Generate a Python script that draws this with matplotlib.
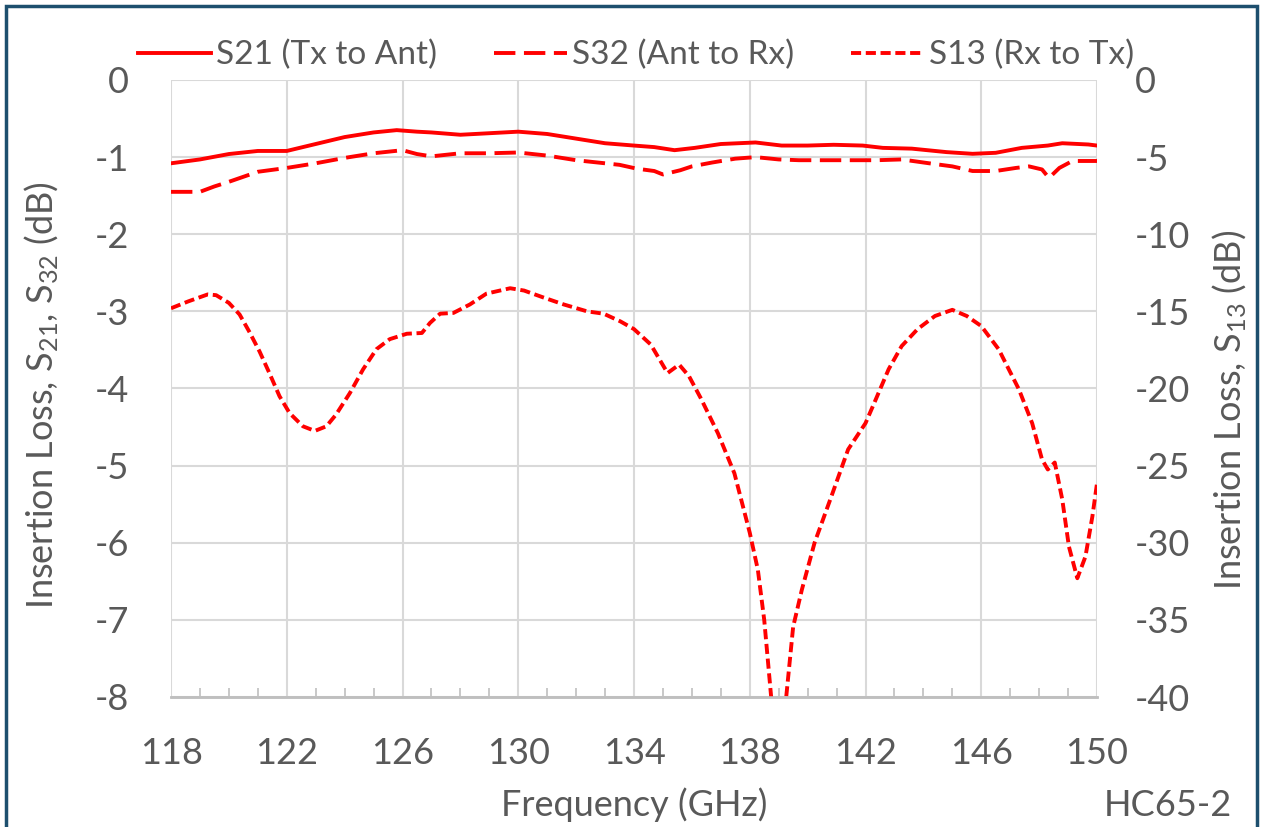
import matplotlib
matplotlib.use("Agg")
from matplotlib import pyplot as plt
from matplotlib.patches import Rectangle
from matplotlib.ticker import MultipleLocator

plt.rc("font", family = ["Lato", "DejaVu Sans"], size = 26)
plt.rc("mathtext", default = "regular")
plt.rc("axes", unicode_minus = False)

GRAY = "#595959"

# S21 (Tx to Ant), left axis, dB
s21_freq = [118, 119, 120, 121, 122, 123, 124, 125, 125.8, 126.5, 127, 128, 129, 130,
            131, 132, 133, 134, 134.7, 135.4, 136.1, 137, 138.2, 139.1, 140, 140.9,
            141.9, 142.6, 143.6, 144.8, 145.7, 146.5, 147.4, 148.3, 148.8, 149.7, 150]
s21_db = [-1.08, -1.03, -0.96, -0.92, -0.92, -0.83, -0.74, -0.68, -0.65, -0.67, -0.68,
          -0.71, -0.69, -0.67, -0.70, -0.76, -0.82, -0.85, -0.87, -0.91, -0.88, -0.83,
          -0.81, -0.85, -0.85, -0.84, -0.85, -0.88, -0.89, -0.935, -0.957, -0.944,
          -0.88, -0.85, -0.82, -0.836, -0.85]

# S32 (Ant to Rx), left axis, dB
s32_freq = [118, 119, 119.5, 120, 121, 122, 123, 124, 125, 126, 126.5, 127, 128, 129,
            130, 131, 132, 133, 133.5, 134.1, 134.7, 135, 135.6, 136, 136.7, 137.5,
            138.2, 139, 139.7, 140.6, 141.4, 142.4, 143.25, 144.2, 145, 145.7, 146.5,
            147.2, 147.65, 148.1, 148.34, 148.7, 149.15, 150]
s32_db = [-1.45, -1.45, -1.38, -1.32, -1.19, -1.14, -1.08, -1.01, -0.95, -0.91, -0.96,
          -0.99, -0.95, -0.95, -0.94, -0.98, -1.04, -1.08, -1.10, -1.15, -1.18, -1.225,
          -1.17, -1.12, -1.07, -1.02, -1.00, -1.03, -1.04, -1.04, -1.04, -1.04, -1.03,
          -1.08, -1.12, -1.18, -1.18, -1.14, -1.12, -1.16, -1.27, -1.14, -1.05, -1.05]

# S13 (Rx to Tx), right axis, dB
s13_freq = [118, 118.6, 119.27, 119.56, 120, 120.37, 120.7, 121.06, 121.4, 121.75, 122.1,
            122.56, 122.97, 123.37, 123.7, 124.18, 124.64, 125.1, 125.56, 126.15, 126.67,
            126.95, 127.3, 127.76, 128.33, 128.9, 129.72, 130.2, 130.87, 131.57, 132.38,
            132.95, 133.53, 134.0, 134.58, 135.16, 135.56, 135.9, 136.3, 136.9, 137.47,
            138.0, 138.28, 138.5, 138.74, 139.0, 139.26, 139.5, 139.8, 140.24, 140.82,
            141.4, 142.0, 142.3, 142.8, 143.25, 143.8, 144.4, 145.0, 145.5, 146.0, 146.6,
            147.3, 147.76, 148.1, 148.3, 148.54, 148.8, 149.03, 149.32, 149.6, 149.84, 150]
s13_db = [-14.8, -14.35, -13.9, -13.95, -14.45, -15.2, -16.3, -17.6, -19.0, -20.5, -21.6,
          -22.45, -22.75, -22.45, -21.7, -20.3, -18.75, -17.45, -16.8, -16.45, -16.4,
          -15.75, -15.15, -15.1, -14.55, -13.85, -13.5, -13.65, -14.1, -14.55, -15.0,
          -15.15, -15.65, -16.15, -17.15, -19.0, -18.45, -19.2, -20.6, -22.9, -25.5,
          -29.35, -31.75, -35.0, -40.0, -43.0, -40.0, -35.45, -33.05, -30.0, -27.0,
          -23.95, -22.25, -20.95, -18.75, -17.25, -16.15, -15.3, -14.9, -15.3, -15.95,
          -17.45, -20.05, -22.25, -24.6, -25.25, -24.8, -27.2, -30.25, -32.3, -30.9,
          -28.3, -26.15]

left_ticks = list(range(-8, 1))
right_ticks = list(range(-40, 1, 5))
freq_ticks = list(range(118, 151, 4))

fig = plt.figure(figsize = (12.62, 8.27), dpi = 100)
ax = fig.add_axes([171/1262, 1 - 697/827, 926/1262, 617/827])
ax2 = ax.twinx()

l21, = ax.plot(s21_freq, s21_db, color = "red", lw = 2.8, label = "S21 (Tx to Ant)")
l32, = ax.plot(s32_freq, s32_db, color = "red", lw = 2.8, linestyle = (0, (5.5, 2.2)),
               label = "S32 (Ant to Rx)")
l13, = ax2.plot(s13_freq, s13_db, color = "red", lw = 2.8, linestyle = (0, (2.6, 1.2)),
                label = "S13 (Rx to Tx)")

ax.set_xlim(118, 150)
ax.set_ylim(-8, 0)
ax2.set_ylim(-40, 0)
ax.set_xticks(freq_ticks)
ax.xaxis.set_minor_locator(MultipleLocator(1))
ax.set_yticks(left_ticks)
ax2.set_yticks(right_ticks)

ax.grid(True, which = "major", color = "#d9d9d9", lw = 1.5)
ax.set_axisbelow(True)
for a in (ax, ax2):
    for side in ("top", "left", "right"):
        a.spines[side].set_visible(False)
    a.spines["bottom"].set_color("#bfbfbf")
    a.spines["bottom"].set_linewidth(1.8)

ax.tick_params(axis = "x", which = "major", length = 0, pad = 29, colors = GRAY)
ax.tick_params(axis = "x", which = "minor", direction = "in", length = 6.5,
               width = 1.2, color = "#bfbfbf")
ax.tick_params(axis = "y", length = 0, pad = 30, colors = GRAY)
ax2.tick_params(axis = "y", length = 0, pad = 27, colors = GRAY)

ax.set_xlabel("Frequency (GHz)", color = GRAY, va = "center")
ax.xaxis.set_label_coords(0.5, -0.175)
ax.set_ylabel("Insertion Loss, S$_{21}$, S$_{32}$ (dB)", color = GRAY, va = "center")
ax.yaxis.set_label_coords(-0.139, 0.49)
ax2.set_ylabel("Insertion Loss, S$_{13}$ (dB)", color = GRAY, va = "center")
ax2.yaxis.set_label_coords(1.1436, 0.465)

fig.legend(handles = [l21, l32, l13], loc = "center", ncol = 3,
           bbox_to_anchor = (636/1262, 1 - 55/827), frameon = False,
           fontsize = 24, labelcolor = GRAY, handlelength = 2.2,
           handletextpad = 0.15, columnspacing = 1.7)

fig.text(1232/1262, 1 - 805/827, "HC65-2", ha = "right", va = "center",
         color = GRAY, fontsize = 26)

fig.patches.append(Rectangle((6/1262, -0.1), 1251/1262, 1 - 6/827 + 0.1,
                             transform = fig.transFigure, fill = False,
                             edgecolor = "#1d4f6e", lw = 2.5))

fig.savefig("out.png", dpi = 100)
